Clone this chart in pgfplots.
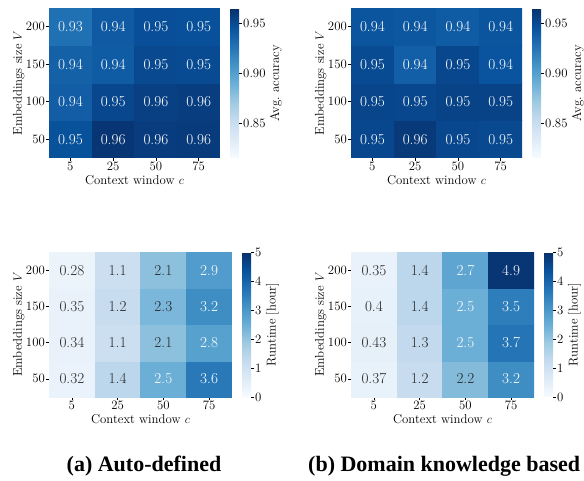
\documentclass[border=0pt]{standalone}
\usepackage{fontspec}
\newfontfamily\capfont{Liberation Serif}
\usepackage{pgfplots}
\usepackage{pgfplotstable}
\pgfplotsset{compat=1.18}
\definecolor{txtdark}{HTML}{262626}
\newcommand\tickfont{\fontsize{12.8}{14}\selectfont}
\newcommand\cellfont{\fontsize{15.2}{17}\selectfont}
\pgfplotsset{
  colormap={blues}{rgb255=(247,251,255) rgb255=(222,235,247) rgb255=(198,219,239) rgb255=(158,202,225) rgb255=(107,174,214) rgb255=(66,146,198) rgb255=(33,113,181) rgb255=(8,81,156) rgb255=(8,48,107)},
  hm/.style={
    scale only axis,
    colormap name=blues,
    xmin=-0.5, xmax=3.5, ymin=-0.5, ymax=3.5,
    xtick={0,1,2,3}, xticklabels={5,25,50,75},
    ytick={0,1,2,3}, yticklabels={50,100,150,200},
    axis line style={draw=none},
    tick align=outside, tick pos=left,
    major tick length=3pt,
    tick style={black, line width=0.6pt},
    xticklabel style={font=\tickfont, inner sep=1pt},
    yticklabel style={font=\tickfont, inner sep=1pt},
    label style={font=\tickfont},
    xlabel={Context window $c$},
    ylabel={Embeddings size $V$},
    ylabel shift=-3pt,
    colorbar,
  },
  cb/.style={
    colorbar style={
      at={(parent axis.north east)}, anchor=north west, xshift=1.5pt,
      width=9pt,
      axis line style={draw=none},
      tick align=outside, ytick pos=right, yticklabel pos=right,
      major tick length=3pt,
      ytick style={black, line width=0.6pt},
      yticklabel style={font=\tickfont, inner sep=1pt},
      ylabel style={font=\tickfont},
      /pgf/number format/assume math mode=true,
      #1
    },
  },
  labw/.style={only marks, mark=none, nodes near coords, point meta=explicit symbolic,
    every node near coord/.append style={anchor=center, font=\cellfont, text=white}},
  labd/.style={only marks, mark=none, nodes near coords, point meta=explicit symbolic,
    every node near coord/.append style={anchor=center, font=\cellfont, text=txtdark}},
}

\pgfplotstableread{
x y c
0 0 0.946
1 0 0.962
2 0 0.958
3 0 0.959
0 1 0.939
1 1 0.952
2 1 0.956
3 1 0.957
0 2 0.937
1 2 0.940
2 2 0.951
3 2 0.950
0 3 0.928
1 3 0.941
2 3 0.948
3 3 0.947
}\accA

\pgfplotstableread{
x y c
0 0 0.952
1 0 0.960
2 0 0.952
3 0 0.951
0 1 0.953
1 1 0.952
2 1 0.954
3 1 0.954
0 2 0.950
1 2 0.938
2 2 0.952
3 2 0.945
0 3 0.944
1 3 0.943
2 3 0.940
3 3 0.944
}\accB

\pgfplotstableread{
x y c
0 0 0.32
1 0 1.4
2 0 2.5
3 0 3.6
0 1 0.34
1 1 1.1
2 1 2.1
3 1 2.8
0 2 0.35
1 2 1.2
2 2 2.3
3 2 3.2
0 3 0.28
1 3 1.1
2 3 2.1
3 3 2.9
}\runA

\pgfplotstableread{
x y c
0 0 0.37
1 0 1.2
2 0 2.2
3 0 3.2
0 1 0.43
1 1 1.3
2 1 2.5
3 1 3.7
0 2 0.4
1 2 1.4
2 2 2.5
3 2 3.5
0 3 0.35
1 3 1.4
2 3 2.7
3 3 4.9
}\runB

\begin{document}
\begin{tikzpicture}
% ---------- top left ----------
\begin{axis}[hm, cb={ytick={0.85,0.90,0.95},
      yticklabel style={/pgf/number format/.cd, fixed, fixed zerofill, precision=2},
      ylabel={Avg.\ accuracy}},
    at={(49pt,-158pt)}, anchor=south west, width=171pt, height=150pt,
    /pgf/number format/assume math mode=true,
    point meta min=0.815, point meta max=0.965]
\addplot[matrix plot*, mesh/cols=4, point meta=explicit] table[x=x, y=y, meta=c] {\accA};
\addplot[labw] coordinates {
(0,0)[0.95] (1,0)[0.96] (2,0)[0.96] (3,0)[0.96]
(0,1)[0.94] (1,1)[0.95] (2,1)[0.96] (3,1)[0.96]
(0,2)[0.94] (1,2)[0.94] (2,2)[0.95] (3,2)[0.95]
(0,3)[0.93] (1,3)[0.94] (2,3)[0.95] (3,3)[0.95]};
\end{axis}
% ---------- top right ----------
\begin{axis}[hm, cb={ytick={0.85,0.90,0.95},
      yticklabel style={/pgf/number format/.cd, fixed, fixed zerofill, precision=2},
      ylabel={Avg.\ accuracy}},
    at={(351pt,-158pt)}, anchor=south west, width=171pt, height=150pt,
    /pgf/number format/assume math mode=true,
    point meta min=0.815, point meta max=0.965]
\addplot[matrix plot*, mesh/cols=4, point meta=explicit] table[x=x, y=y, meta=c] {\accB};
\addplot[labw] coordinates {
(0,0)[0.95] (1,0)[0.96] (2,0)[0.95] (3,0)[0.95]
(0,1)[0.95] (1,1)[0.95] (2,1)[0.95] (3,1)[0.95]
(0,2)[0.95] (1,2)[0.94] (2,2)[0.95] (3,2)[0.94]
(0,3)[0.94] (1,3)[0.94] (2,3)[0.94] (3,3)[0.94]};
\end{axis}
% ---------- bottom left ----------
\begin{axis}[hm, cb={ytick={0,1,2,3,4,5}, ylabel={Runtime [hour]}},
    at={(49pt,-397pt)}, anchor=south west, width=183pt, height=145pt,
    /pgf/number format/assume math mode=true,
    point meta min=0, point meta max=5]
\addplot[matrix plot*, mesh/cols=4, point meta=explicit] table[x=x, y=y, meta=c] {\runA};
\addplot[labd] coordinates {
(0,0)[0.32] (1,0)[1.4]
(0,1)[0.34] (1,1)[1.1] (2,1)[2.1]
(0,2)[0.35] (1,2)[1.2] (2,2)[2.3]
(0,3)[0.28] (1,3)[1.1] (2,3)[2.1]};
\addplot[labw] coordinates {
(2,0)[2.5] (3,0)[3.6] (3,1)[2.8] (3,2)[3.2] (3,3)[2.9]};
\end{axis}
% ---------- bottom right ----------
\begin{axis}[hm, cb={ytick={0,1,2,3,4,5}, ylabel={Runtime [hour]}},
    at={(351pt,-397pt)}, anchor=south west, width=183pt, height=145pt,
    /pgf/number format/assume math mode=true,
    point meta min=0, point meta max=5]
\addplot[matrix plot*, mesh/cols=4, point meta=explicit] table[x=x, y=y, meta=c] {\runB};
\addplot[labd] coordinates {
(0,0)[0.37] (1,0)[1.2] (2,0)[2.2]
(0,1)[0.43] (1,1)[1.3]
(0,2)[0.4] (1,2)[1.4]
(0,3)[0.35] (1,3)[1.4]};
\addplot[labw] coordinates {
(3,0)[3.2] (2,1)[2.5] (3,1)[3.7] (2,2)[2.5] (3,2)[3.5] (2,3)[2.7] (3,3)[4.9]};
\end{axis}
% ---------- captions ----------
\node[anchor=base, font=\capfont\bfseries\fontsize{22}{26}\selectfont, inner sep=0pt] at (144pt,-471.5pt) {(a) Auto-defined};
\node[anchor=base west, font=\capfont\bfseries\fontsize{22}{26}\selectfont, inner sep=0pt] at (308pt,-471.5pt) {(b) Domain knowledge based};
\pgfresetboundingbox
\path[use as bounding box] (0pt,0pt) rectangle (584pt,-481pt);
\end{tikzpicture}
\end{document}
